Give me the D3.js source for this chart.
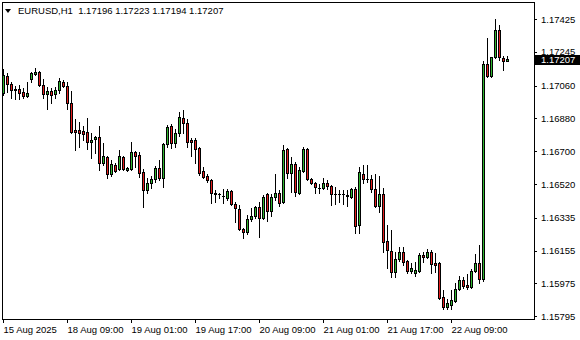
<!DOCTYPE html>
<html>
<head>
<meta charset="utf-8">
<script src="https://cdn.jsdelivr.net/npm/d3@7"></script>
<style>
  body { margin: 0; background: #fff; }
  svg { display: block; font-family: "Liberation Sans", Arial, sans-serif; }
</style>
</head>
<body>
<div id="chart"></div>
<script>
// EURUSD H1 candles, 15 Aug 2025 17:00 .. 22 Aug 2025 23:00
var opens = [
  1.17019,1.17112,1.17069,1.17041,1.17041,1.17025,1.17003,1.17096,1.17123,1.17134,
  1.17063,1.17014,1.17030,1.17014,1.17036,1.17079,1.17058,1.16964,1.16816,1.16816,
  1.16811,1.16805,1.16751,1.16767,1.16778,1.16635,1.16668,1.16575,1.16624,1.16603,
  1.16668,1.16597,1.16603,1.16696,1.16679,1.16586,1.16487,1.16526,1.16548,1.16608,
  1.16553,1.16740,1.16838,1.16745,1.16800,1.16882,1.16855,1.16762,1.16762,1.16718,
  1.16592,1.16564,1.16542,1.16471,1.16466,1.16455,1.16444,1.16482,1.16411,1.16383,
  1.16274,1.16257,1.16329,1.16345,1.16394,1.16334,1.16466,1.16372,1.16449,1.16471,
  1.16422,1.16712,1.16581,1.16630,1.16471,1.16592,1.16712,1.16548,1.16526,1.16498,
  1.16498,1.16526,1.16509,1.16466,1.16466,1.16466,1.16460,1.16449,1.16493,1.16296,
  1.16575,1.16548,1.16548,1.16493,1.16400,1.16466,1.16208,1.16153,1.16038,1.16109,
  1.16148,1.16098,1.16043,1.16032,1.16043,1.16131,1.16120,1.16148,1.16087,1.16087,
  1.15901,1.15846,1.15857,1.15879,1.15945,1.15994,1.15967,1.15956,1.16043,1.16087,
  1.15999,1.17178,1.17112,1.17217,1.17365,1.17211,1.17196
];
var highs = [
  1.17151,1.17129,1.17079,1.17058,1.17063,1.17047,1.17079,1.17134,1.17156,1.17140,
  1.17096,1.17052,1.17047,1.17052,1.17101,1.17090,1.17079,1.17030,1.16877,1.16860,
  1.16838,1.16882,1.16800,1.16783,1.16838,1.16745,1.16674,1.16652,1.16635,1.16707,
  1.16674,1.16614,1.16751,1.16701,1.16696,1.16603,1.16553,1.16564,1.16619,1.16652,
  1.16745,1.16844,1.16849,1.16822,1.16915,1.16926,1.16877,1.16772,1.16772,1.16723,
  1.16614,1.16575,1.16548,1.16487,1.16471,1.16493,1.16493,1.16487,1.16422,1.16405,
  1.16279,1.16350,1.16389,1.16400,1.16422,1.16460,1.16471,1.16466,1.16575,1.16487,
  1.16734,1.16718,1.16668,1.16641,1.16614,1.16723,1.16718,1.16553,1.16531,1.16520,
  1.16553,1.16542,1.16515,1.16504,1.16487,1.16487,1.16487,1.16498,1.16504,1.16614,
  1.16624,1.16624,1.16570,1.16575,1.16564,1.16498,1.16296,1.16268,1.16148,1.16175,
  1.16175,1.16104,1.16087,1.16093,1.16142,1.16148,1.16164,1.16159,1.16142,1.16093,
  1.15939,1.15890,1.15939,1.15978,1.16016,1.16011,1.16027,1.16054,1.16137,1.16186,
  1.17195,1.17321,1.17217,1.17425,1.17392,1.17222,1.17223
];
var lows = [
  1.17008,1.17025,1.16992,1.16986,1.16986,1.16992,1.16997,1.17079,1.17118,1.17058,
  1.16992,1.16931,1.16964,1.16992,1.17019,1.17052,1.16931,1.16800,1.16707,1.16723,
  1.16762,1.16712,1.16663,1.16690,1.16597,1.16624,1.16553,1.16564,1.16586,1.16597,
  1.16597,1.16592,1.16597,1.16614,1.16559,1.16394,1.16471,1.16498,1.16531,1.16542,
  1.16504,1.16723,1.16718,1.16723,1.16783,1.16800,1.16723,1.16674,1.16635,1.16570,
  1.16553,1.16531,1.16416,1.16422,1.16444,1.16416,1.16433,1.16405,1.16312,1.16268,
  1.16224,1.16246,1.16318,1.16334,1.16230,1.16329,1.16318,1.16345,1.16433,1.16400,
  1.16416,1.16553,1.16476,1.16455,1.16466,1.16586,1.16542,1.16520,1.16471,1.16471,
  1.16493,1.16493,1.16405,1.16411,1.16422,1.16411,1.16400,1.16444,1.16252,1.16252,
  1.16526,1.16531,1.16476,1.16394,1.16367,1.16148,1.16060,1.16011,1.16011,1.16098,
  1.16076,1.16032,1.16032,1.16016,1.16038,1.16093,1.16115,1.16032,1.16038,1.15890,
  1.15835,1.15835,1.15835,1.15873,1.15939,1.15950,1.15945,1.15950,1.16038,1.15978,
  1.15989,1.17107,1.17107,1.17211,1.17200,1.17145,1.17194
];
var closes = [
  1.17118,1.17069,1.17036,1.17036,1.17019,1.17003,1.17019,1.17129,1.17134,1.17063,
  1.17014,1.17030,1.17008,1.17036,1.17085,1.17058,1.16964,1.16805,1.16805,1.16800,
  1.16794,1.16751,1.16762,1.16778,1.16635,1.16674,1.16575,1.16630,1.16592,1.16674,
  1.16603,1.16608,1.16696,1.16674,1.16581,1.16487,1.16526,1.16548,1.16608,1.16553,
  1.16740,1.16833,1.16745,1.16800,1.16888,1.16855,1.16751,1.16751,1.16712,1.16581,
  1.16559,1.16542,1.16471,1.16466,1.16466,1.16455,1.16482,1.16411,1.16389,1.16274,
  1.16257,1.16329,1.16345,1.16394,1.16334,1.16449,1.16372,1.16449,1.16471,1.16416,
  1.16707,1.16581,1.16630,1.16476,1.16597,1.16712,1.16548,1.16526,1.16504,1.16498,
  1.16526,1.16509,1.16466,1.16466,1.16466,1.16466,1.16455,1.16493,1.16290,1.16586,
  1.16548,1.16548,1.16493,1.16400,1.16466,1.16202,1.16159,1.16038,1.16109,1.16148,
  1.16093,1.16043,1.16060,1.16049,1.16131,1.16120,1.16148,1.16082,1.16076,1.15895,
  1.15846,1.15868,1.15884,1.15945,1.15994,1.15961,1.15956,1.16043,1.16087,1.15999,
  1.17178,1.17112,1.17217,1.17365,1.17217,1.17196,1.17207
];

// axis ticks
var priceTicks = [1.17425, 1.17245, 1.17060, 1.16880, 1.16700, 1.16520, 1.16335, 1.16155, 1.15975, 1.15795];
var timeTickBars = [0, 16, 32, 48, 64, 80, 96, 112];
var timeTickLabels = ["15 Aug 2025", "18 Aug 09:00", "19 Aug 01:00", "19 Aug 17:00",
                      "20 Aug 09:00", "21 Aug 01:00", "21 Aug 17:00", "22 Aug 09:00"];
var symbol = "EURUSD,H1";

var width = 580, height = 340;
var frame = {left: 2, top: 2, right: 534, bottom: 319};

var svg = d3.select("#chart").append("svg")
    .attr("width", width)
    .attr("height", height);

var n = closes.length;

// one bar every 4 px, bar 0 on pixel column 3
var x = d3.scaleLinear()
    .domain([0, n - 1])
    .range([3, 3 + 4 * (n - 1)]);
var y = d3.scaleLinear()
    .domain([1.15795, 1.17425])
    .range([316.3, 19]);

var green = "#2fb52f", red = "#e41e1e";

// frame
svg.append("rect")
    .attr("x", frame.left + 0.5)
    .attr("y", frame.top + 0.5)
    .attr("width", frame.right - frame.left)
    .attr("height", frame.bottom - frame.top)
    .attr("fill", "none")
    .attr("stroke", "#000");

// candles
var bars = d3.range(n).map(function(i) {
  return {i: i, o: opens[i], h: highs[i], l: lows[i], c: closes[i]};
});

var g = svg.append("g");

var candle = g.selectAll("g.candle")
    .data(bars)
  .enter().append("g")
    .attr("class", "candle");

candle.append("line")
    .attr("x1", function(d) { return x(d.i) + 0.5; })
    .attr("x2", function(d) { return x(d.i) + 0.5; })
    .attr("y1", function(d) { return Math.round(y(d.h)); })
    .attr("y2", function(d) { return Math.round(y(d.l)) + 1; })
    .attr("stroke", "#000");

candle.each(function(d) {
  var el = d3.select(this);
  var yo = Math.round(y(d.o)), yc = Math.round(y(d.c));
  var top = Math.min(yo, yc), bot = Math.max(yo, yc);
  if (top === bot) {
    el.append("line")
        .attr("x1", x(d.i) - 1)
        .attr("x2", x(d.i) + 2)
        .attr("y1", top + 0.5)
        .attr("y2", top + 0.5)
        .attr("stroke", "#000");
  } else {
    el.append("rect")
        .attr("x", x(d.i) - 0.5)
        .attr("y", top + 0.5)
        .attr("width", 2)
        .attr("height", bot - top)
        .attr("fill", d.c > d.o ? green : red)
        .attr("stroke", "#000");
  }
});

// price axis
var yAxis = svg.append("g")
    .attr("transform", "translate(" + frame.right + ",0)")
    .call(d3.axisRight(y)
      .tickValues(priceTicks)
      .tickFormat(d3.format(".5f"))
      .tickSize(3)
      .tickPadding(4));
yAxis.select(".domain").remove();
yAxis.selectAll("line").attr("stroke", "#000").attr("shape-rendering", "crispEdges");
yAxis.selectAll("text")
    .attr("fill", "#000")
    .style("font-family", "'Liberation Sans', Arial, sans-serif")
    .style("font-size", "9.5px");

// current price marker
var last = bars[n - 1];
var yLast = Math.round(y(last.c));
svg.append("rect")
    .attr("x", frame.right + 1)
    .attr("y", yLast - 4)
    .attr("width", width - frame.right - 1)
    .attr("height", 10)
    .attr("fill", "#000");
svg.append("text")
    .attr("x", frame.right + 7)
    .attr("y", yLast + 1)
    .attr("dy", "0.32em")
    .attr("fill", "#fff")
    .style("font-size", "9.5px")
    .text(d3.format(".5f")(last.c));

// time axis
var xAxis = svg.append("g")
    .attr("transform", "translate(0," + frame.bottom + ")")
    .call(d3.axisBottom(x)
      .tickValues(timeTickBars)
      .tickFormat(function(d, i) { return timeTickLabels[i]; })
      .tickSize(4)
      .tickPadding(3));
xAxis.select(".domain").remove();
xAxis.selectAll("line").attr("stroke", "#000").attr("shape-rendering", "crispEdges");
xAxis.selectAll("text")
    .attr("fill", "#000")
    .attr("text-anchor", "start")
    .attr("x", 0)
    .style("font-family", "'Liberation Sans', Arial, sans-serif")
    .style("font-size", "9.5px");

// header: symbol and last bar OHLC
svg.append("path")
    .attr("d", "M5,9 L11,9 L8,13 Z")
    .attr("fill", "#000");
svg.append("text")
    .attr("x", 18)
    .attr("y", 14)
    .attr("fill", "#000")
    .style("font-size", "9.5px")
    .style("white-space", "pre")
    .text(symbol + "  " + [last.o, last.h, last.l, last.c].map(d3.format(".5f")).join(" "));
</script>
</body>
</html>
